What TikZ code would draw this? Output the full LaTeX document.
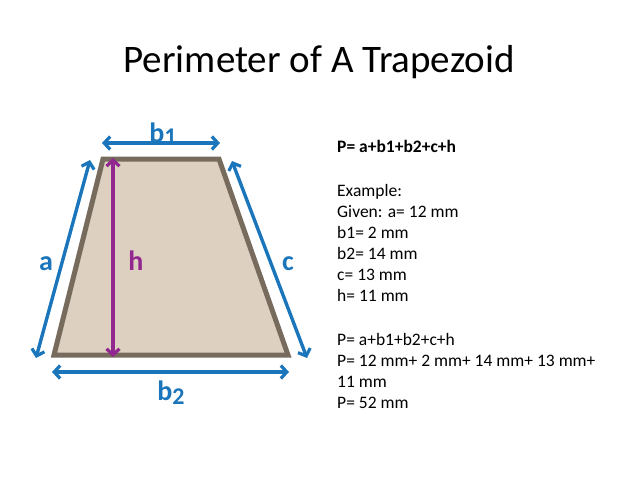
\documentclass[tikz,border=0pt]{standalone}
\usepackage{fontspec}
\setmainfont{Carlito}
\usetikzlibrary{arrows.meta}
\definecolor{dimblue}{HTML}{1B75BB}
\definecolor{dimpurple}{HTML}{92278F}
\definecolor{trapfill}{HTML}{DDD0C1}
\definecolor{trapedge}{HTML}{776B5D}
\tikzset{
  dimarrow/.style={line width=3.4pt, color=dimblue, {Straight Barb[length=6pt,width=13pt,line width=3.2pt]}-{Straight Barb[length=6pt,width=13pt,line width=3.2pt]}},
  harrow/.style={dimarrow, color=dimpurple},
  dimlabel/.style={text=dimblue, font=\fontsize{28}{30}\selectfont\bfseries, inner sep=0pt, anchor=base},
  bodytext/.style={anchor=base west, inner sep=0pt, font=\fontsize{17.5}{21}\selectfont}
}
\begin{document}
\begin{tikzpicture}[x=1pt,y=-1pt]
\useasboundingbox (0,0) rectangle (638,479);
\node[font=\fontsize{39}{42}\selectfont, inner sep=0pt] (title) at (319,62) {Perimeter of A Trapezoid};
% trapezoid
\coordinate (tl) at (103,159);
\coordinate (tr) at (219,159);
\coordinate (br) at (288,355);
\coordinate (bl) at (54,355);
\draw[fill=trapfill, draw=trapedge, line width=5pt, line join=miter] (tl) -- (tr) -- (br) -- (bl) -- cycle;
% arrow endpoints
\coordinate (b1l) at (102,143);
\coordinate (b1r) at (220,143);
\coordinate (b2l) at (52,372);
\coordinate (b2r) at (289,372);
\coordinate (at) at (90,160);
\coordinate (ab) at (36,358);
\coordinate (ct) at (232,161);
\coordinate (cb) at (307,358);
\coordinate (ht) at (113,158);
\coordinate (hb) at (113,357);
\draw[dimarrow] (b1l) -- (b1r);
\draw[dimarrow] (b2l) -- (b2r);
\draw[dimarrow] (at) -- (ab);
\draw[dimarrow] (ct) -- (cb);
\draw[harrow] (ht) -- (hb);
\node[dimlabel] (lb1) at (163,142) {b\raisebox{-2pt}{\fontsize{24}{26}\selectfont\bfseries 1}};
\node[dimlabel] (lb2) at (171,400) {b\raisebox{-4pt}{\fontsize{24}{26}\selectfont\bfseries 2}};
\node[dimlabel] (la) at (46,270) {a};
\node[dimlabel] (lc) at (288,270) {c};
\node[dimlabel, text=dimpurple] (lh) at (136,270) {h};
% text
\node[bodytext, font=\fontsize{17.5}{21}\selectfont\bfseries] (formula) at (337,152.5) {P= a+b1+b2+c+h};
\node[bodytext] (ex1) at (337,196.7) {Example:};
\node[bodytext] (ex2) at (337,217.5) {Given: a= 12 mm};
\node[bodytext] (ex3) at (337,238.5) {b1= 2 mm};
\node[bodytext] (ex4) at (337,259.5) {b2= 14 mm};
\node[bodytext] (ex5) at (337,280.5) {c= 13 mm};
\node[bodytext] (ex6) at (337,301.5) {h= 11 mm};
\node[bodytext] (res1) at (337,345) {P= a+b1+b2+c+h};
\node[bodytext] (res2) at (337,366) {P= 12 mm+ 2 mm+ 14 mm+ 13 mm+};
\node[bodytext] (res3) at (337,387) {11 mm};
\node[bodytext] (res4) at (337,408) {P= 52 mm};
\end{tikzpicture}
\end{document}
